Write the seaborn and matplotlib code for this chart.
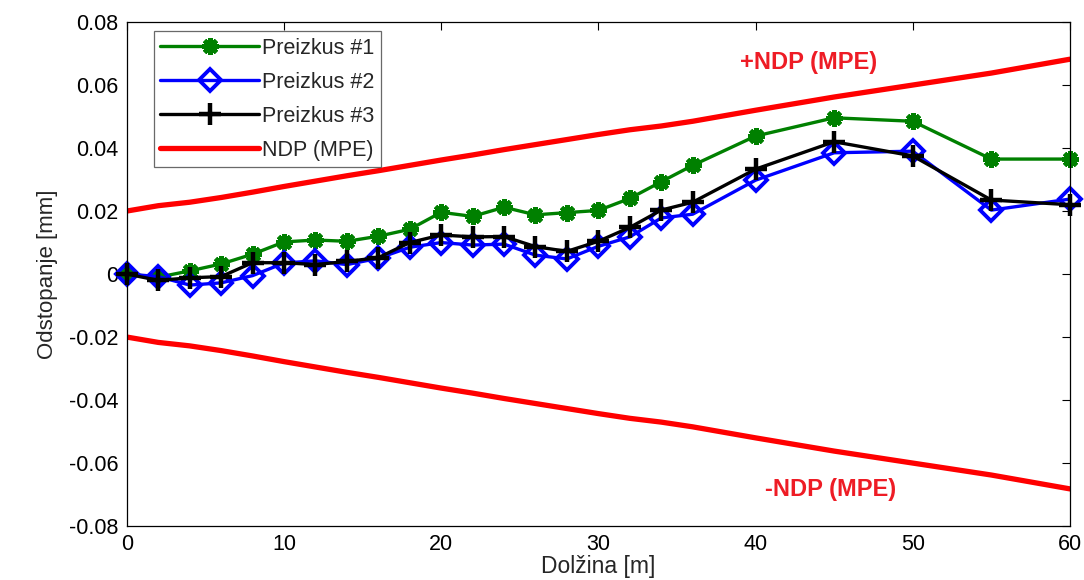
import matplotlib
matplotlib.use("Agg")
import matplotlib.pyplot as plt
import seaborn as sns
import pandas as pd

# ---- data ----
x_m = [0, 2, 4, 6, 8, 10, 12, 14, 16, 18, 20, 22, 24, 26, 28, 30, 32, 34, 36, 40, 45, 50, 55, 60]
preizkus1 = [0.0, -0.001, 0.001, 0.0032, 0.0063, 0.0102, 0.0108, 0.0104, 0.0120, 0.0142, 0.0196,
             0.0183, 0.0212, 0.0188, 0.0195, 0.0202, 0.0240, 0.0293, 0.0345, 0.0438, 0.0496,
             0.0485, 0.0365, 0.0365]
preizkus2 = [0.0, -0.0008, -0.0035, -0.0028, -0.0005, 0.0035, 0.0042, 0.0030, 0.0050, 0.0085,
             0.0100, 0.0092, 0.0095, 0.0060, 0.0048, 0.0088, 0.0118, 0.0178, 0.0190, 0.0298,
             0.0385, 0.0390, 0.0203, 0.0238]
preizkus3 = [0.0, -0.0020, -0.0012, -0.0008, 0.0036, 0.0036, 0.0030, 0.0040, 0.0052, 0.0100,
             0.0124, 0.0118, 0.0119, 0.0087, 0.0072, 0.0104, 0.0148, 0.0203, 0.0228, 0.0333,
             0.0420, 0.0375, 0.0235, 0.0220]
ndp = [0.020, 0.0217, 0.0228, 0.0243, 0.0260, 0.0278, 0.0295, 0.0312, 0.0328, 0.0345, 0.0362,
       0.0378, 0.0395, 0.0411, 0.0427, 0.0443, 0.0458, 0.0470, 0.0485, 0.0520, 0.0562, 0.0600,
       0.0638, 0.0682]
x_ticks = [0, 10, 20, 30, 40, 50, 60]
y_ticks = [-0.08, -0.06, -0.04, -0.02, 0, 0.02, 0.04, 0.06, 0.08]
y_tick_labels = ["-0.08", "-0.06", "-0.04", "-0.02", "0", "0.02", "0.04", "0.06", "0.08"]
series_names = ["Preizkus #1", "Preizkus #2", "Preizkus #3"]
ndp_name = "NDP (MPE)"

sns.set_style("white")
plt.rcParams["font.family"] = ["Liberation Sans", "DejaVu Sans"]

df = pd.DataFrame({"x": x_m, "p1": preizkus1, "p2": preizkus2, "p3": preizkus3,
                   "up": ndp, "lo": [-v for v in ndp]})

fig = plt.figure(figsize=(10.84, 5.8), dpi=100)
ax = fig.add_axes([0.117, 0.093, 0.870, 0.869])

sns.lineplot(data=df, x="x", y="p1", ax=ax, color="#008000", lw=2.4,
             marker=(8, 2, 0), markersize=12, markeredgewidth=3.2,
             markeredgecolor="#008000", label=series_names[0], clip_on=False)
sns.lineplot(data=df, x="x", y="p2", ax=ax, color="#0000FF", lw=2.4,
             marker="D", markersize=11, markeredgewidth=2.8,
             markerfacecolor="none", markeredgecolor="#0000FF", label=series_names[1],
             clip_on=False)
sns.lineplot(data=df, x="x", y="p3", ax=ax, color="black", lw=2.4,
             marker="+", markersize=16, markeredgewidth=3.2,
             markeredgecolor="black", label=series_names[2], clip_on=False)
sns.lineplot(data=df, x="x", y="up", ax=ax, color="#FF0000", lw=3.8, label=ndp_name)
sns.lineplot(data=df, x="x", y="lo", ax=ax, color="#FF0000", lw=3.8, legend=False)

ax.set_xlim(0, 60)
ax.set_ylim(-0.08, 0.08)
ax.set_xticks(x_ticks)
ax.set_xticklabels([str(t) for t in x_ticks])
ax.set_yticks(y_ticks)
ax.set_yticklabels(y_tick_labels)
ax.tick_params(direction="in", length=6, width=0.8, top=True, right=True,
               labelsize=15.5, pad=6, colors="black")
for s in ax.spines.values():
    s.set_color("black")
    s.set_linewidth(0.9)

ax.set_xlabel("Dolžina [m]", fontsize=16.5, labelpad=0)
ax.set_ylabel("Odstopanje [mm]", fontsize=16, labelpad=8)

ax.text(43.4, 0.0672, "+NDP (MPE)", color="#EE1C25", fontsize=17, fontweight="bold",
        ha="center", va="center")
ax.text(44.8, -0.0685, "-NDP (MPE)", color="#EE1C25", fontsize=17, fontweight="bold",
        ha="center", va="center")

leg = ax.legend(loc="upper left", bbox_to_anchor=(0.024, 0.99), fontsize=15.5,
                frameon=True, fancybox=False, handlelength=4.6, handletextpad=0.15,
                borderpad=0.3, labelspacing=0.6, borderaxespad=0.2)
leg.get_frame().set_edgecolor("#444444")
leg.get_frame().set_linewidth(0.9)

fig.savefig("out.png", dpi=100)
